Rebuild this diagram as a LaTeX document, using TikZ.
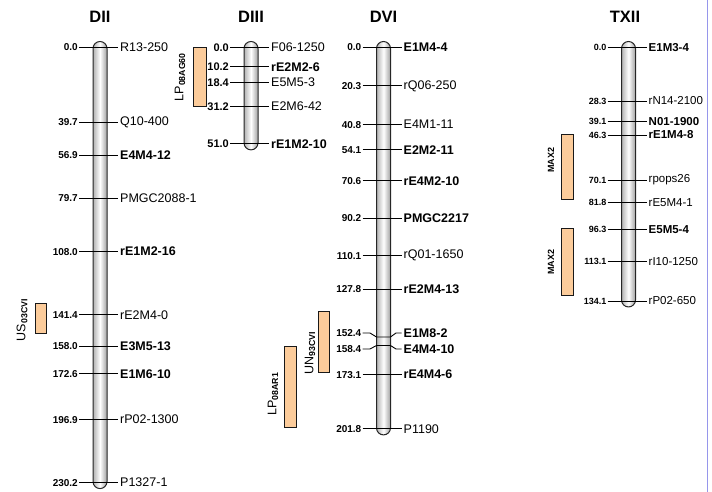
\documentclass[tikz,border=0pt]{standalone}
\usepackage{fontspec}
\setmainfont{Liberation Sans}
\definecolor{qtlfill}{RGB}{252,204,155}
\definecolor{frameblue}{RGB}{150,150,235}
\newcommand\numfs{10}
\newcommand\mkfs{12.5}
\tikzset{
  tick/.style={draw=black, line width=0.9pt},
  num/.style={font=\fontsize{\numfs}{11}\selectfont\bfseries, anchor=east, inner sep=0pt},
  mk/.style={font=\fontsize{\mkfs}{13}\selectfont, anchor=west, inner sep=0pt},
  mkb/.style={font=\fontsize{\mkfs}{13}\selectfont\bfseries, anchor=west, inner sep=0pt},
  ttl/.style={font=\fontsize{16.5}{18}\selectfont\bfseries, inner sep=0pt},
  chrbar/.style={draw=black!85, line width=1pt, rounded corners=7pt,
    left color=gray!60, right color=gray!75, middle color=white},
  qtl/.style={draw=black!90, line width=0.9pt, fill=qtlfill},
  qlab/.style={rotate=90, font=\fontsize{12.5}{13}\selectfont, inner sep=0pt},
  maxlab/.style={rotate=90, font=\fontsize{9}{10}\selectfont\bfseries, inner sep=0pt}
}
\newcommand\chromosome[4]{%
  \path[chrbar] ({#2-7},41.5) rectangle ({#2+7},{47.5+1.89*#3+6});
  \node[ttl] (#1-title) at (#2,17) {#4};
}
\newcommand\marker[6]{%
  \coordinate (#1-L) at ({#2-21},{47.5+1.89*#3});
  \coordinate (#1-R) at ({#2+18},{47.5+1.89*#3});
  \draw[tick] (#1-L) -- (#1-R);
  \node[num, xshift=-1pt] (#1-n) at (#1-L) {#4};
  \node[#6, xshift=2pt] (#1-m) at (#1-R) {#5};
}
\begin{document}
\begin{tikzpicture}[x=1pt,y=-1pt]
\useasboundingbox (0,0) rectangle (712,492);

% ---------- DII ----------
\chromosome{dii}{100}{230.2}{DII}
\marker{dii1}{100}{0.0}{0.0}{R13-250}{mk}
\marker{dii2}{100}{39.7}{39.7}{Q10-400}{mk}
\marker{dii3}{100}{56.9}{56.9}{E4M4-12}{mkb}
\marker{dii4}{100}{79.7}{79.7}{PMGC2088-1}{mk}
\marker{dii5}{100}{108.0}{108.0}{rE1M2-16}{mkb}
\marker{dii6}{100}{141.4}{141.4}{rE2M4-0}{mk}
\marker{dii7}{100}{158.0}{158.0}{E3M5-13}{mkb}
\marker{dii8}{100}{172.6}{172.6}{E1M6-10}{mkb}
\marker{dii9}{100}{196.9}{196.9}{rP02-1300}{mk}
\marker{dii10}{100}{230.2}{230.2}{P1327-1}{mk}

% ---------- DIII ----------
\renewcommand\numfs{11}
\chromosome{diii}{251}{51.0}{DIII}
\marker{diii1}{251}{0.0}{0.0}{F06-1250}{mk}
\marker{diii2}{251}{10.2}{10.2}{rE2M2-6}{mkb}
\marker{diii3}{251}{18.4}{18.4}{E5M5-3}{mk}
\marker{diii4}{251}{31.2}{31.2}{E2M6-42}{mk}
\marker{diii5}{251}{51.0}{51.0}{rE1M2-10}{mkb}

% ---------- DVI ----------
\renewcommand\numfs{10}
\chromosome{dvi}{383.5}{201.8}{DVI}
\marker{dvi1}{383.5}{0.0}{0.0}{E1M4-4}{mkb}
\marker{dvi2}{383.5}{20.3}{20.3}{rQ06-250}{mk}
\marker{dvi3}{383.5}{40.8}{40.8}{E4M1-11}{mk}
\marker{dvi4}{383.5}{54.1}{54.1}{E2M2-11}{mkb}
\marker{dvi5}{383.5}{70.6}{70.6}{rE4M2-10}{mkb}
\marker{dvi6}{383.5}{90.2}{90.2}{PMGC2217}{mkb}
\marker{dvi7}{383.5}{110.1}{110.1}{rQ01-1650}{mk}
\marker{dvi8}{383.5}{127.8}{127.8}{rE2M4-13}{mkb}
\coordinate (dvi9-L) at (362.5,333);
\coordinate (dvi9-R) at (401.5,333);
\draw[tick] (dvi9-L) -- (370,333) -- (376.5,337) -- (390.5,337) -- (396,333) -- (dvi9-R);
\node[num, xshift=-1pt] (dvi9-n) at (dvi9-L) {152.4};
\node[mkb, xshift=2pt] (dvi9-m) at (dvi9-R) {E1M8-2};
\coordinate (dvi10-L) at (362.5,349);
\coordinate (dvi10-R) at (401.5,349);
\draw[tick] (dvi10-L) -- (370,349) -- (376.5,345.5) -- (390.5,345.5) -- (396,349) -- (dvi10-R);
\node[num, xshift=-1pt] (dvi10-n) at (dvi10-L) {158.4};
\node[mkb, xshift=2pt] (dvi10-m) at (dvi10-R) {E4M4-10};
\marker{dvi11}{383.5}{173.1}{173.1}{rE4M4-6}{mkb}
\marker{dvi12}{383.5}{201.8}{201.8}{P1190}{mk}

% ---------- TXII ----------
\renewcommand\numfs{9}
\renewcommand\mkfs{11.5}
\chromosome{txii}{628.5}{134.1}{}
\node[ttl] (txii-t) at (625,17) {TXII};
\marker{tx1}{628.5}{0.0}{0.0}{E1M3-4}{mkb}
\marker{tx2}{628.5}{28.3}{28.3}{rN14-2100}{mk}
\marker{tx3}{628.5}{39.1}{39.1}{N01-1900}{mkb}
\marker{tx4}{628.5}{46.3}{46.3}{rE1M4-8}{mkb}
\marker{tx5}{628.5}{70.1}{70.1}{rpops26}{mk}
\marker{tx6}{628.5}{81.8}{81.8}{rE5M4-1}{mk}
\marker{tx7}{628.5}{96.3}{96.3}{E5M5-4}{mkb}
\marker{tx8}{628.5}{113.1}{113.1}{rI10-1250}{mk}
\marker{tx9}{628.5}{134.1}{134.1}{rP02-650}{mk}

% ---------- QTL bars ----------
\path[qtl] (193,47) rectangle (206,106);
\node[qlab] (q1) at (180,77) {LP\textsubscript{\textbf{08AG60}}};
\path[qtl] (35,303) rectangle (46,333);
\node[qlab] (q2) at (22,320) {US\textsubscript{\textbf{03CVI}}};
\path[qtl] (318,311) rectangle (329,372);
\node[qlab] (q3) at (310,353) {UN\textsubscript{\textbf{93CVI}}};
\path[qtl] (284,346) rectangle (296,427);
\node[qlab] (q4) at (273,394) {LP\textsubscript{\textbf{08AR1}}};
\path[qtl] (561,134) rectangle (573,199);
\node[maxlab] (q5) at (551,160) {MAX2};
\path[qtl] (561,228) rectangle (573,295);
\node[maxlab] (q6) at (551,262) {MAX2};

% ---------- frame line ----------
\draw[frameblue, line width=1.5pt] (707.5,0) -- (707.5,492);
\end{tikzpicture}
\end{document}
